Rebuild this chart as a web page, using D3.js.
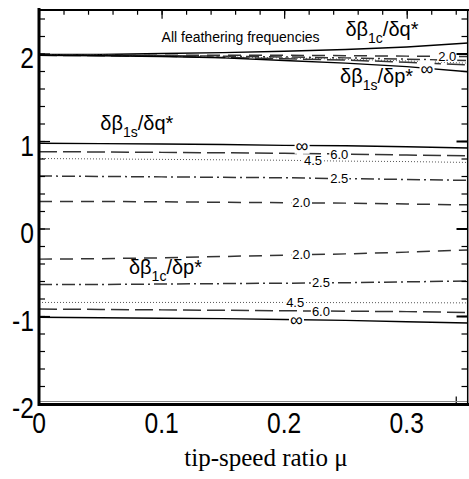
<!DOCTYPE html>
<html>
<head>
<meta charset="utf-8">
<script src="https://cdn.jsdelivr.net/npm/d3@7/dist/d3.min.js"></script>
<style>
  body { margin: 0; background: #fff; }
  svg { display: block; }
  text { font-family: "Liberation Sans", Arial, sans-serif; }
</style>
</head>
<body>
<div id="chart"></div>
<script>
// tip-speed ratio sample points
const mu = [0, 0.05, 0.1, 0.15, 0.2, 0.25, 0.3, 0.35];

// dβ1c/dq* (all feathering frequencies collapse to one curve)
const q1cAll = [1.99, 1.99, 2.0, 2.01, 2.025, 2.045, 2.075, 2.12];

// dβ1s/dp* family
const p1s20 = [1.98, 1.98, 1.98, 1.98, 1.98, 1.975, 1.97, 1.965];
const p1s25 = [1.98, 1.98, 1.975, 1.97, 1.96, 1.95, 1.935, 1.92];
const p1s45 = [1.98, 1.98, 1.97, 1.96, 1.95, 1.935, 1.915, 1.89];
const p1s60 = [1.98, 1.975, 1.97, 1.955, 1.94, 1.925, 1.9, 1.87];
const p1sInf = [1.98, 1.975, 1.965, 1.95, 1.92, 1.89, 1.85, 1.79];

// dβ1s/dq* family
const q1sInf = [0.975, 0.97, 0.965, 0.96, 0.95, 0.945, 0.935, 0.92];
const q1s60 = [0.878, 0.875, 0.87, 0.865, 0.86, 0.85, 0.84, 0.83];
const q1s45 = [0.80, 0.795, 0.79, 0.785, 0.78, 0.77, 0.765, 0.755];
const q1s25 = [0.60, 0.595, 0.59, 0.585, 0.58, 0.57, 0.56, 0.55];
const q1s20 = [0.31, 0.31, 0.305, 0.30, 0.295, 0.29, 0.28, 0.27];

// dβ1c/dp* family
const p1c20 = [-0.35, -0.345, -0.335, -0.32, -0.305, -0.29, -0.27, -0.245];
const p1c25 = [-0.64, -0.64, -0.635, -0.63, -0.625, -0.62, -0.61, -0.60];
const p1c45 = [-0.845, -0.845, -0.845, -0.845, -0.845, -0.847, -0.848, -0.85];
const p1c60 = [-0.92, -0.925, -0.93, -0.935, -0.94, -0.945, -0.95, -0.96];
const p1cInf = [-1.015, -1.02, -1.025, -1.03, -1.04, -1.05, -1.065, -1.08];

const xTicks = [0, 0.1, 0.2, 0.3];
const xTickLabels = ["0", "0.1", "0.2", "0.3"];
const yTicks = [-2, -1, 0, 1, 2];
const yTickLabels = ["-2", "-1", "0", "1", "2"];

// curve list: values, frequency key, where its label sits (mu) or none
const curves = [
  { v: q1cAll, f: "inf" },
  { v: p1s20, f: "2.0", at: 0.333 },
  { v: p1s25, f: "2.5" },
  { v: p1s45, f: "4.5" },
  { v: p1s60, f: "6.0" },
  { v: p1sInf, f: "inf", at: 0.3165 },
  { v: q1sInf, f: "inf", at: 0.2146 },
  { v: q1s60, f: "6.0", at: 0.245 },
  { v: q1s45, f: "4.5", at: 0.2235 },
  { v: q1s25, f: "2.5", at: 0.245 },
  { v: q1s20, f: "2.0", at: 0.214 },
  { v: p1c20, f: "2.0", at: 0.214 },
  { v: p1c25, f: "2.5", at: 0.23 },
  { v: p1c45, f: "4.5", at: 0.209 },
  { v: p1c60, f: "6.0", at: 0.23 },
  { v: p1cInf, f: "inf", at: 0.21 }
];

const lineStyle = {
  "inf": { dash: null, w: 1.5, c: "#000" },
  "6.0": { dash: "18,6", w: 1.5, c: "#333" },
  "4.5": { dash: "1,2", w: 1, c: "#555" },
  "2.5": { dash: "13,4,2,4", w: 1.5, c: "#333" },
  "2.0": { dash: "13,8", w: 1.5, c: "#333" }
};

const width = 469, height = 479;
const x = d3.scaleLinear().domain([0, 0.35]).range([39, 468]);
const y = d3.scaleLinear().domain([-2, 2.5]).range([403.5, 9.75]);

const svg = d3.select("#chart").append("svg")
  .attr("width", width).attr("height", height);

svg.append("clipPath").attr("id", "plot")
  .append("rect").attr("x", 39).attr("y", 10).attr("width", 429).attr("height", 394);

const line = d3.line().x((d, i) => x(mu[i])).y(d => y(d));

const plot = svg.append("g").attr("clip-path", "url(#plot)");
curves.forEach(c => {
  const s = lineStyle[c.f];
  plot.append("path")
    .attr("d", line(c.v))
    .attr("fill", "none")
    .attr("stroke", s.c)
    .attr("stroke-width", s.w)
    .attr("stroke-dasharray", s.dash);
});

// contour labels with a white gap in the line
const valueAt = (vals, m) => d3.scaleLinear().domain(mu).range(vals)(m);
const labels = svg.append("g");
curves.filter(c => c.at != null).forEach(c => {
  const g = labels.append("g")
    .attr("transform", `translate(${x(c.at)},${y(valueAt(c.v, c.at))})`);
  const t = g.append("text")
    .attr("text-anchor", "middle")
    .attr("dy", "0.35em")
    .attr("font-size", c.f === "inf" ? 18 : 13)
    .text(c.f === "inf" ? "∞" : c.f);
  const b = t.node().getBBox();
  g.insert("rect", "text")
    .attr("x", b.x - 1).attr("y", b.y + 2)
    .attr("width", b.width + 2).attr("height", b.height - 4)
    .attr("fill", "#fff");
});

// axes
const frame = svg.append("g");
const xMinor = d3.range(0, 0.35, 0.02);
frame.append("g").attr("transform", `translate(0,${y(2.5)})`)
  .call(d3.axisTop(x).tickValues(xMinor).tickSize(-5).tickFormat(""));
frame.append("g").attr("transform", `translate(0,${y(2.5)})`)
  .call(d3.axisTop(x).tickValues(xTicks).tickSize(-9).tickFormat(""));
frame.append("g").attr("transform", `translate(0,${y(-2)})`)
  .call(d3.axisBottom(x).tickValues([0.34]).tickSize(-7).tickFormat(""));

const yMinor = d3.range(-2, 2.5, 0.2);
frame.append("g").attr("transform", `translate(${x(0)},0)`)
  .call(d3.axisLeft(y).tickValues(yMinor).tickSize(-6).tickFormat(""));
frame.append("g").attr("transform", `translate(${x(0)},0)`)
  .call(d3.axisLeft(y).tickValues(yTicks).tickSize(-11).tickFormat(""));
frame.append("g").attr("transform", `translate(467.5,0)`)
  .call(d3.axisRight(y).tickValues(yMinor).tickSize(-6).tickFormat(""));
frame.append("g").attr("class", "rmaj").attr("transform", `translate(467.5,0)`)
  .call(d3.axisRight(y).tickValues(yTicks).tickSize(-11).tickFormat(""));
frame.selectAll(".domain").remove();
frame.selectAll(".tick line").attr("stroke", "#000").attr("stroke-width", 1.2);
frame.selectAll(".rmaj .tick line").attr("stroke-width", 2);

// frame lines
svg.append("line").attr("x1", 39).attr("x2", 468).attr("y1", 401.5).attr("y2", 401.5)
  .attr("stroke", "#888").attr("stroke-width", 1);
svg.append("line").attr("x1", 38).attr("x2", 469).attr("y1", 404.5).attr("y2", 404.5)
  .attr("stroke", "#000").attr("stroke-width", 3);
svg.append("line").attr("x1", 38).attr("x2", 469).attr("y1", 10).attr("y2", 10)
  .attr("stroke", "#000").attr("stroke-width", 2);
svg.append("line").attr("x1", 39).attr("x2", 39).attr("y1", 8).attr("y2", 406)
  .attr("stroke", "#000").attr("stroke-width", 3);
svg.append("line").attr("x1", 467.7).attr("x2", 467.7).attr("y1", 9).attr("y2", 405)
  .attr("stroke", "#000").attr("stroke-width", 1.5);

// tick labels (slightly condensed, like the original)
svg.append("g").selectAll("text").data(yTicks).join("text")
  .attr("transform", d => `translate(34,${y(d) + 14.5}) scale(0.88,1.04)`)
  .attr("text-anchor", "end").attr("font-size", 28)
  .text((d, i) => yTickLabels[i]);
svg.append("g").selectAll("text").data(xTicks).join("text")
  .attr("transform", d => `translate(${x(d)},433) scale(0.88,1.04)`)
  .attr("text-anchor", "middle").attr("font-size", 28)
  .text((d, i) => xTickLabels[i]);

svg.append("text")
  .attr("x", 266).attr("y", 466)
  .attr("text-anchor", "middle")
  .attr("style", "font-family:'Liberation Serif','Times New Roman',serif")
  .attr("font-size", 25)
  .text("tip-speed ratio μ");

// curve family annotations
svg.append("text").attr("x", x(0.1)).attr("y", y(2.137))
  .attr("font-size", 14).text("All feathering frequencies");

function deriv(m, v, sub, den) {
  const t = svg.append("text").attr("x", x(m)).attr("y", y(v)).attr("font-size", 20);
  t.append("tspan").text("δβ");
  t.append("tspan").attr("dy", 7).attr("font-size", 14).text(sub);
  t.append("tspan").attr("dy", -7).text("/δ" + den + "*");
}
deriv(0.25, 2.2, "1c", "q");
deriv(0.2456, 1.663, "1s", "p");
deriv(0.05, 1.126, "1s", "q");
deriv(0.0734, -0.52, "1c", "p");
</script>
</body>
</html>
